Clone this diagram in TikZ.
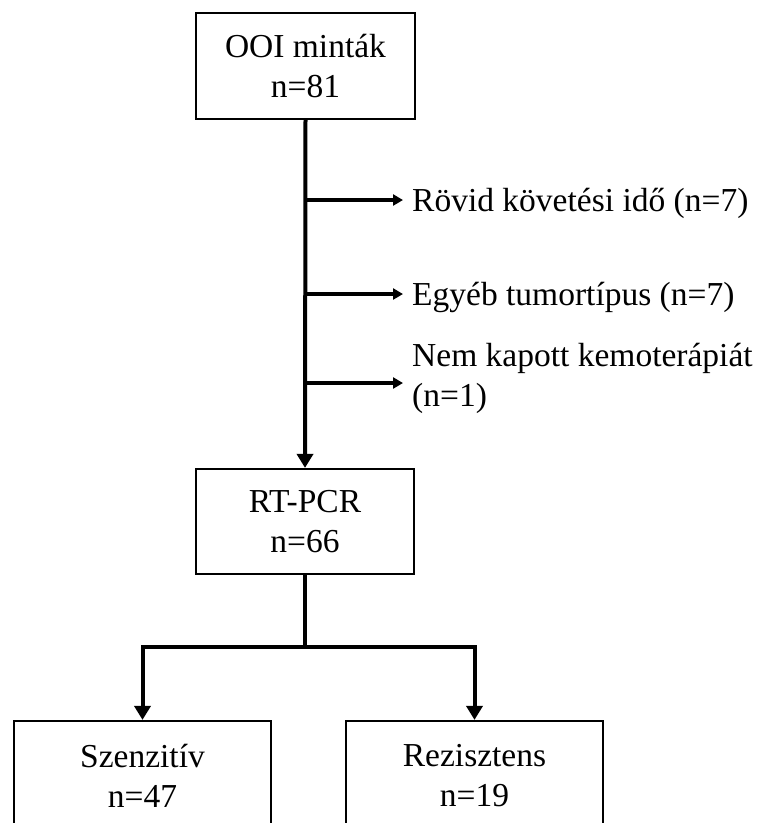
\documentclass[tikz,border=0pt]{standalone}
\usepackage{fontspec}
\setmainfont{Liberation Serif}
\usetikzlibrary{arrows.meta}
\begin{document}
\begin{tikzpicture}[x=1pt,y=-1pt,
  txt/.style={font=\fontsize{33.5}{40}\selectfont},
  box/.style={txt, draw=black, line width=2.2pt, align=center, inner sep=0pt},
  sidetext/.style={txt, anchor=west, inner xsep=9pt, inner ysep=0pt, align=left},
  flow/.style={line width=4pt, -{Triangle[width=16pt,length=14pt]}},
  sideflow/.style={line width=3.3pt, -{Triangle[width=11pt,length=10pt]}},
]
\clip (0,0) rectangle (761,823);

% boxes
\node[box, minimum width=219pt, minimum height=106pt] (ooi) at (305.5,66) {OOI minták\\n=81};
\node[box, minimum width=218pt, minimum height=105pt] (rt) at (305,521.5) {RT-PCR\\n=66};
\node[box, minimum width=257pt, minimum height=110pt] (sz) at (142.5,776) {Szenzitív\\n=47};
\node[box, minimum width=257pt, minimum height=110pt] (re) at (474.5,776) {Rezisztens\\n=19};

% branch points on the main line
\coordinate (b1) at (305,200);
\coordinate (b2) at (305,294);
\coordinate (b3) at (305,383);
\coordinate (j) at (305,647);

% exclusion labels
\node[sidetext, text height=28pt, text depth=6pt] (t1) at (403,200) {Rövid követési idő (n=7)};
\node[sidetext, text height=28pt, text depth=6pt] (t2) at (403,294) {Egyéb tumortípus (n=7)};
\node[sidetext] (t3) at (403,378) {Nem kapott kemoterápiát\\(n=1)};

% connectors
\draw[flow] (ooi.south) -- (rt.north);
\draw[sideflow] (b1) -- (b1 -| t1.west);
\draw[sideflow] (b2) -- (b2 -| t2.west);
\draw[sideflow] (b3) -- (b3 -| t3.west);
\draw[line width=4pt] (rt.south) -- (j);
\draw[flow] (j) -| (sz.north);
\draw[flow] (j) -| (re.north);
\end{tikzpicture}
\end{document}
